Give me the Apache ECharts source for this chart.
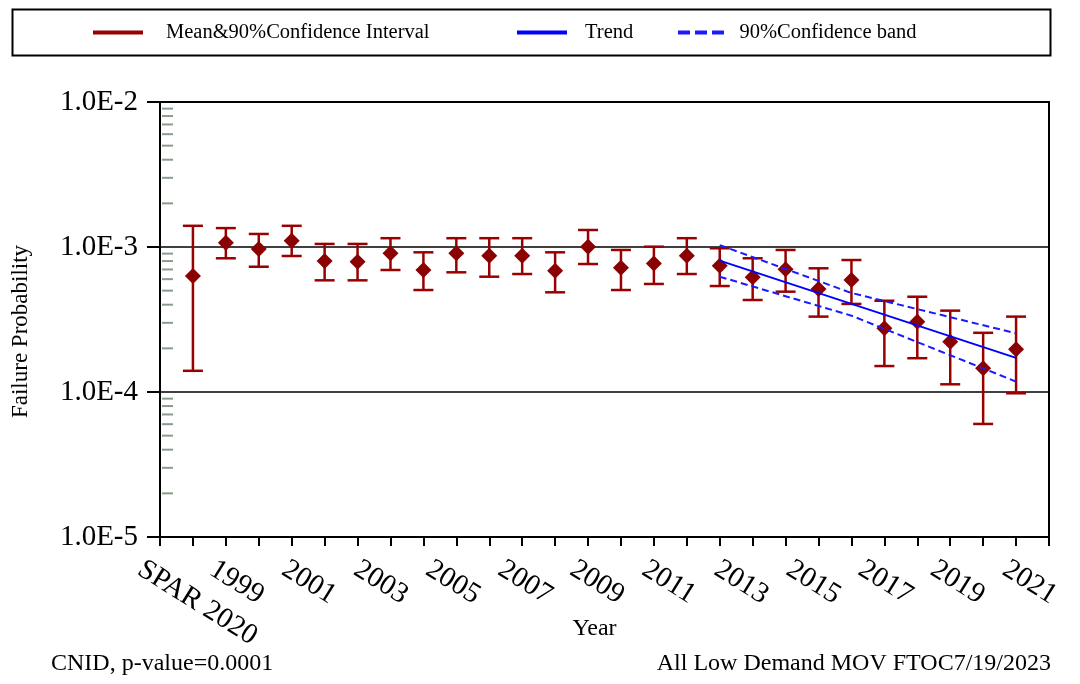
<!DOCTYPE html>
<html>
<head>
<meta charset="utf-8">
<script src="https://cdn.jsdelivr.net/npm/echarts@6/dist/echarts.min.js"></script>
<style>
    html, body {margin: 0; padding: 0; background: #fff;}
    #chart {width: 1080px; height: 684px;}
</style>
</head>
<body>
<div id="chart"></div>
<script>
// point categories: SPAR prior, then one point per year
var categories = ['SPAR 2020', '1997', '1998', '1999', '2000', '2001', '2002', '2003', '2004', '2005',
    '2006', '2007', '2008', '2009', '2010', '2011', '2012', '2013', '2014', '2015',
    '2016', '2017', '2018', '2019', '2020', '2021'];
var meanValues = [6.31e-4, 1.07e-3, 9.69e-4, 1.106e-3, 8.0e-4, 7.92e-4, 9.05e-4, 6.94e-4, 9.05e-4, 8.71e-4,
    8.71e-4, 6.87e-4, 1.005e-3, 7.2e-4, 7.71e-4, 8.71e-4, 7.43e-4, 6.18e-4, 7.02e-4, 5.13e-4,
    5.92e-4, 2.75e-4, 3.05e-4, 2.22e-4, 1.46e-4, 1.97e-4];
var lowerValues = [1.40e-4, 8.36e-4, 7.31e-4, 8.67e-4, 5.89e-4, 5.89e-4, 6.94e-4, 5.05e-4, 6.69e-4, 6.24e-4,
    6.51e-4, 4.87e-4, 7.63e-4, 5.05e-4, 5.56e-4, 6.51e-4, 5.38e-4, 4.31e-4, 4.92e-4, 3.31e-4,
    4.05e-4, 1.51e-4, 1.71e-4, 1.13e-4, 6.02e-5, 9.8e-5];
var upperValues = [1.40e-3, 1.35e-3, 1.23e-3, 1.40e-3, 1.05e-3, 1.05e-3, 1.15e-3, 9.19e-4, 1.15e-3, 1.15e-3,
    1.15e-3, 9.19e-4, 1.31e-3, 9.54e-4, 1.005e-3, 1.15e-3, 9.8e-4, 8.36e-4, 9.54e-4, 7.13e-4,
    8.13e-4, 4.26e-4, 4.54e-4, 3.64e-4, 2.56e-4, 3.31e-4];

var trendYears = ['2012', '2021'];
var trendValues = [8.05e-4, 1.72e-4];
var bandYears = ['2012', '2016', '2021'];
var bandUpper = [1.03e-3, 4.82e-4, 2.54e-4];
var bandLower = [6.24e-4, 3.36e-4, 1.18e-4];

var xTickLabels = ['SPAR 2020', '1999', '2001', '2003', '2005', '2007', '2009', '2011', '2013', '2015', '2017', '2019', '2021'];
var yTickLabels = ['1.0E-5', '1.0E-4', '1.0E-3', '1.0E-2'];
var minorSteps = [2, 3, 4, 5, 6, 7, 8, 9];
var decades = [1e-5, 1e-4, 1e-3];

var FONT = 'Liberation Serif';

function yearPos(year) {
    return categories.indexOf(year) + 1;
}

var errorData = categories.map(function (c, i) {
    return [i + 1, meanValues[i], lowerValues[i], upperValues[i]];
});

var minorData = [];
decades.forEach(function (d) {
    minorSteps.forEach(function (s) {
        minorData.push([0, s * d]);
    });
});

function renderErrorBar(params, api) {
    var x = api.value(0);
    var pm = api.coord([x, api.value(1)]);
    var pl = api.coord([x, api.value(2)]);
    var ph = api.coord([x, api.value(3)]);
    var st = {stroke: '#990000', lineWidth: 2.5};
    return {
        type: 'group',
        children: [
            {type: 'line', shape: {x1: pl[0], y1: pl[1], x2: ph[0], y2: ph[1]}, style: st},
            {type: 'line', shape: {x1: pl[0] - 10, y1: pl[1], x2: pl[0] + 10, y2: pl[1]}, style: st},
            {type: 'line', shape: {x1: ph[0] - 10, y1: ph[1], x2: ph[0] + 10, y2: ph[1]}, style: st},
            {
                type: 'polygon',
                shape: {points: [[pm[0], pm[1] - 8], [pm[0] + 8, pm[1]], [pm[0], pm[1] + 8], [pm[0] - 8, pm[1]]]},
                style: {fill: '#8B0000'}
            }
        ]
    };
}

function renderMinorTick(params, api) {
    var p = api.coord([api.value(0), api.value(1)]);
    return {
        type: 'line',
        shape: {x1: p[0] + 2, y1: p[1], x2: p[0] + 13, y2: p[1]},
        style: {stroke: '#8c9c8c', lineWidth: 2}
    };
}

var chart = echarts.init(document.getElementById('chart'));
var option = {
    animation: false,
    backgroundColor: '#fff',
    textStyle: {fontFamily: FONT},
    grid: [
        {left: 160, right: 31, top: 102, bottom: 147, show: true, borderColor: '#000', borderWidth: 2,
            outerBoundsMode: 'none'},
        {left: 140, right: 75, top: 102, bottom: 147, show: false, outerBoundsMode: 'none'}
    ],
    legend: [
        {
            data: [{name: 'Mean&90%Confidence Interval', icon: 'rect'}],
            left: 93, top: 22, padding: 0, itemWidth: 50, itemHeight: 4,
            textStyle: {fontFamily: FONT, fontSize: 20.5, color: '#000', padding: [0, 0, 0, 18]}
        },
        {
            data: [{name: 'Trend', icon: 'rect'}],
            left: 517, top: 22, padding: 0, itemWidth: 50, itemHeight: 4,
            textStyle: {fontFamily: FONT, fontSize: 20.5, color: '#000', padding: [0, 0, 0, 13]}
        },
        {
            data: [{name: '90%Confidence band', icon: 'path://M0,0H12V4H0Z M17,0H29V4H17Z M34,0H46V4H34Z'}],
            left: 678, top: 22, padding: 0, itemWidth: 47, itemHeight: 4,
            textStyle: {fontFamily: FONT, fontSize: 20.5, color: '#000', padding: [0, 0, 0, 10]}
        }
    ],
    xAxis: [
        {
            type: 'value', gridIndex: 0, min: 0, max: 27, interval: 1,
            axisLine: {show: true, lineStyle: {color: '#000', width: 2}},
            axisTick: {show: true, length: 9, lineStyle: {color: '#000', width: 2}},
            axisLabel: {show: false},
            splitLine: {show: false},
            name: 'Year', nameLocation: 'middle', nameGap: 80,
            nameTextStyle: {fontFamily: FONT, fontSize: 24, color: '#000', padding: [0, 20, 0, 0]}
        },
        {
            type: 'value', gridIndex: 1, min: 0, max: 12, interval: 1,
            axisLine: {show: false}, axisTick: {show: false}, splitLine: {show: false},
            axisLabel: {
                rotate: -32, margin: 30, fontFamily: FONT, fontSize: 29, color: '#000',
                formatter: function (v) {
                    var i = Math.round(v);
                    return Math.abs(v - i) < 0.01 ? (xTickLabels[i] || '') : '';
                }
            }
        }
    ],
    yAxis: [
        {
            type: 'log', logBase: 10, gridIndex: 0, min: 1e-5, max: 1e-2, splitNumber: 3,
            axisLine: {show: true, lineStyle: {color: '#000', width: 2}},
            axisTick: {show: true, length: 13, lineStyle: {color: '#000', width: 2}},
            axisLabel: {
                margin: 22, fontFamily: FONT, fontSize: 29, color: '#000',
                formatter: function (v) {
                    return yTickLabels[Math.round(Math.log10(v)) + 5] || '';
                }
            },
            splitLine: {show: true, lineStyle: {color: '#000', width: 1.5}},
            name: 'Failure Probability', nameLocation: 'middle', nameGap: 128,
            nameTextStyle: {fontFamily: FONT, fontSize: 23, color: '#000', padding: [0, 24, 0, 0]}
        },
        {type: 'value', gridIndex: 1, show: false}
    ],
    graphic: [
        {type: 'rect', left: 10, top: 7, shape: {width: 1038, height: 46},
            style: {fill: 'none', stroke: '#000', lineWidth: 2}},
        {type: 'text', left: 51, top: 652,
            style: {text: 'CNID, p-value=0.0001', font: '24px "Liberation Serif"', fill: '#000'}},
        {type: 'text', right: 29, top: 652,
            style: {text: 'All Low Demand MOV FTOC7/19/2023', font: '24px "Liberation Serif"', fill: '#000'}}
    ],
    series: [
        {
            name: 'minor ticks', type: 'custom', xAxisIndex: 0, yAxisIndex: 0,
            renderItem: renderMinorTick, data: minorData, encode: {x: 0, y: 1},
            silent: true, z: 1, clip: false
        },
        {
            name: 'Mean&90%Confidence Interval', type: 'custom', xAxisIndex: 0, yAxisIndex: 0,
            renderItem: renderErrorBar, data: errorData, encode: {x: 0, y: [1, 2, 3]},
            itemStyle: {color: '#990000'}, z: 2
        },
        {
            name: 'Trend', type: 'line', xAxisIndex: 0, yAxisIndex: 0, symbol: 'none',
            data: trendYears.map(function (y, i) { return [yearPos(y), trendValues[i]]; }),
            lineStyle: {color: '#0000FF', width: 2}, itemStyle: {color: '#0000FF'}, z: 5
        },
        {
            name: '90%Confidence band', type: 'line', xAxisIndex: 0, yAxisIndex: 0, symbol: 'none',
            data: bandYears.map(function (y, i) { return [yearPos(y), bandUpper[i]]; }),
            lineStyle: {color: '#1a1aff', width: 2, type: [7, 4]}, itemStyle: {color: '#1a1aff'}, z: 5
        },
        {
            name: '90%Confidence band', type: 'line', xAxisIndex: 0, yAxisIndex: 0, symbol: 'none',
            data: bandYears.map(function (y, i) { return [yearPos(y), bandLower[i]]; }),
            lineStyle: {color: '#1a1aff', width: 2, type: [7, 4]}, itemStyle: {color: '#1a1aff'}, z: 5
        }
    ]
};
chart.setOption(option);
</script>
</body>
</html>
